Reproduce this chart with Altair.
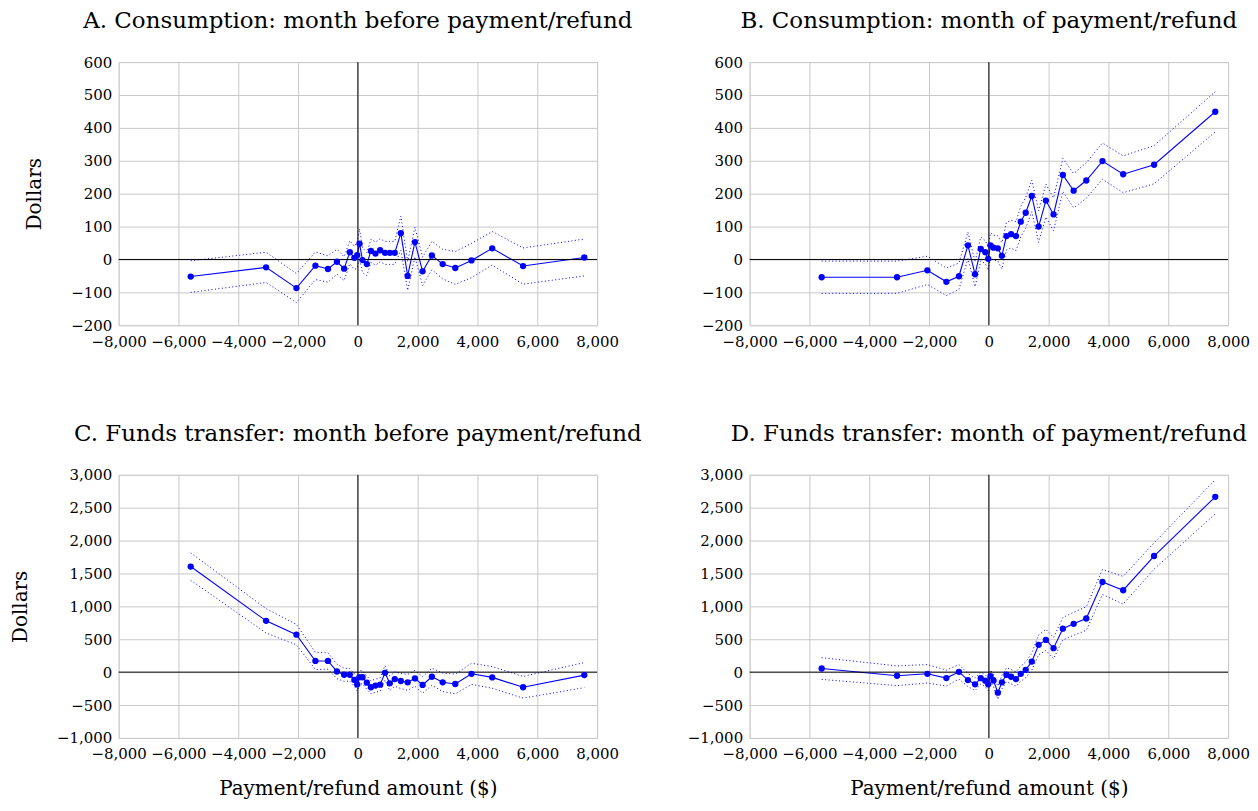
import altair as alt
import pandas as pd

FONT = "DejaVu Serif"
BLUE = "#0000ff"

titles = ["A. Consumption: month before payment/refund",
          "B. Consumption: month of payment/refund",
          "C. Funds transfer: month before payment/refund",
          "D. Funds transfer: month of payment/refund"]
y_title = "Dollars"
x_title = "Payment/refund amount ($)"

x_vals = [-5590, -3070, -2055, -1420, -1000, -700, -460, -270, -118, -22, 55, 156, 300, 436, 589,
          744, 908, 1067, 1233, 1436, 1665, 1908, 2164, 2475, 2836, 3258, 3800, 4492, 5525, 7572]

a_y = [-52, -24, -87, -19, -29, -7, -28, 22, 5, 13, 48, -2, -14, 26, 18,
       28, 20, 20, 20, 80, -50, 53, -36, 12, -14, -26, -3, 34, -20, 6]
a_hw = [48, 46, 44, 42, 40, 38, 36, 35, 35, 40, 45, 38, 35, 35, 35,
        35, 35, 35, 35, 52, 44, 45, 43, 43, 45, 50, 52, 51, 55, 56]

b_y = [-54, -54, -33, -68, -51, 43, -45, 32, 22, 2, 43, 36, 34, 11, 71,
       77, 71, 115, 142, 193, 100, 179, 137, 257, 209, 240, 299, 259, 288, 449]
b_hw = [49, 49, 43, 42, 40, 40, 38, 36, 35, 35, 38, 38, 38, 40, 42,
        42, 44, 46, 47, 48, 48, 50, 50, 50, 52, 54, 55, 56, 58, 61]

c_y = [1605, 780, 570, 170, 170, 10, -40, -40, -118, -187, -78, -78, -160, -230, -205,
       -190, -10, -170, -105, -135, -155, -95, -195, -70, -155, -180, -25, -80, -230, -45]
c_hw = [208, 185, 155, 130, 125, 110, 100, 95, 95, 100, 100, 100, 100, 100, 100,
        100, 110, 110, 110, 115, 120, 120, 125, 130, 140, 150, 160, 165, 165, 190]

d_y = [55, -55, -25, -90, 5, -120, -185, -92, -130, -185, -62, -127, -312, -155, -40,
       -70, -105, -25, 35, 160, 415, 490, 365, 660, 735, 815, 1370, 1245, 1765, 2665]
d_hw = [165, 150, 140, 120, 110, 100, 95, 90, 90, 95, 95, 95, 100, 100, 105,
        110, 110, 115, 120, 130, 150, 160, 160, 170, 175, 180, 190, 210, 200, 260]

x_ticks = list(range(-8000, 8001, 2000))

W, H = 480, 264


def panel(title, yv, hw, ydom, ystep, ytitle, xtitle):
    df = pd.DataFrame({"x": x_vals, "y": yv})
    df["lo"] = df["y"] - pd.Series(hw)
    df["hi"] = df["y"] + pd.Series(hw)
    y_ticks = list(range(ydom[0], ydom[1] + 1, ystep))

    xaxis = alt.Axis(values=x_ticks, format=",.0f", grid=True, gridColor="#c8c8c8", gridWidth=1,
                     ticks=False, domain=False, labelFont=FONT, labelFontSize=15,
                     labelColor="black", labelPadding=9, labelOverlap=False, labelFlush=False,
                     title=xtitle, titleFont=FONT, titleFontSize=20, titleFontWeight="normal",
                     titleColor="black", titlePadding=17)
    yaxis = alt.Axis(values=y_ticks, tickCount=len(y_ticks), format=",.0f", grid=True,
                     gridColor="#c8c8c8", gridWidth=1, ticks=False, domain=False,
                     labelFont=FONT, labelFontSize=15, labelColor="black", labelPadding=7,
                     labelOverlap=False, labelFlush=False,
                     title=ytitle, titleFont=FONT, titleFontSize=20, titleFontWeight="normal",
                     titleColor="black", titlePadding=26)
    xs = alt.Scale(domain=[-8000, 8000], nice=False, zero=False)
    ys = alt.Scale(domain=list(ydom), nice=False, zero=False)

    def xe(f="x"):
        return alt.X(f, type="quantitative", scale=xs, axis=xaxis)

    def ye(f):
        return alt.Y(f, type="quantitative", scale=ys, axis=yaxis)

    base = alt.Chart(df)
    lo_line = base.mark_line(color=BLUE, strokeWidth=1, strokeDash=[1, 2.5]).encode(x=xe(), y=ye("lo"))
    hi_line = base.mark_line(color=BLUE, strokeWidth=1, strokeDash=[1, 2.5]).encode(x=xe(), y=ye("hi"))
    main = base.mark_line(color=BLUE, strokeWidth=1.1).encode(x=xe(), y=ye("y"))
    pts = base.mark_circle(color=BLUE, size=40, opacity=1).encode(x=xe(), y=ye("y"))
    zero_h = alt.Chart(pd.DataFrame({"y": [0]})).mark_rule(color="black", strokeWidth=1).encode(y=ye("y"))
    zero_v = alt.Chart(pd.DataFrame({"x": [0]})).mark_rule(color="black", strokeWidth=1).encode(x=xe())
    ttl = alt.Chart(pd.DataFrame({"t": [title]})).mark_text(
        font=FONT, fontSize=23, baseline="middle", align="center", color="black"
    ).encode(text="t:N", x=alt.value(W / 2), y=alt.value(-41))

    return alt.layer(lo_line, hi_line, main, zero_h, zero_v, pts, ttl).properties(width=W, height=H)


A = panel(titles[0], a_y, a_hw, (-200, 600), 100, y_title, "")
B = panel(titles[1], b_y, b_hw, (-200, 600), 100, "", "")
C = panel(titles[2], c_y, c_hw, (-1000, 3000), 500, y_title, x_title)
D = panel(titles[3], d_y, d_hw, (-1000, 3000), 500, "", x_title)

chart = alt.concat(A, B, C, D, columns=2, bounds="flush",
                   spacing={"row": 150, "column": 153}).properties(
    padding={"left": 1, "top": 0, "right": 0, "bottom": 0}
).configure_view(
    stroke="black", strokeWidth=1
).configure(background="white")

chart.save("out.html", embed_options={"renderer": "svg", "actions": False})
